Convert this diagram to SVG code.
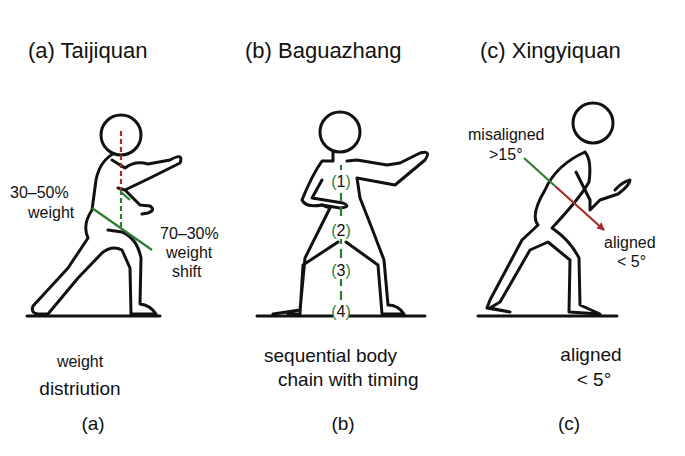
<svg xmlns="http://www.w3.org/2000/svg" width="685" height="456" viewBox="0 0 685 456">
<style>
text{font-family:"Liberation Sans",Arial,sans-serif;fill:#111}
.b{fill:none;stroke:#111;stroke-width:3;stroke-linecap:round;stroke-linejoin:round}
.h{fill:#fff;stroke:#111;stroke-width:3}
.g{stroke:#2e7d32;stroke-width:2.2;fill:none}
.r{stroke:#a52a2a;stroke-width:2.2;fill:none}
.t{font-size:22px}
.s{font-size:16px}
.m{font-size:19px}
</style>
<defs><marker id="ar" markerWidth="8" markerHeight="8" refX="7" refY="4" orient="auto" markerUnits="userSpaceOnUse"><path d="M0,0 L8,4 L0,8 z" fill="#a52a2a"/></marker></defs>
<rect width="685" height="456" fill="#fff"/>
<text class="t" x="28" y="58">(a)  Taijiquan</text>
<text class="t" x="245" y="58">(b)  Baguazhang</text>
<text class="t" x="480" y="58">(c)  Xingyiquan</text>
<g id="figA">
<line class="b" x1="27" y1="316" x2="160" y2="316"/>
<path class="b" d="M115,153 Q100,160 96,180 L92,210 Q82,225 88,238 L68,268 L33,306 Q30,314 40,314 L48,314 L78,278 L102,253 Q112,245 122,250 L130,268 L131,314 L156,314 Q150,305 140,304 L141,258 Q137,238 122,232 L108,230"/>
<path class="b" d="M112,160 L125,168 Q135,160 148,164 L170,160 Q184,152 180,163 L150,178 L125,190 L118,188 M125,190 L140,205 L150,206 Q156,210 148,213 L142,214"/>
<circle class="h" cx="121" cy="135" r="20"/>
<line class="r" x1="121" y1="131" x2="121" y2="190" stroke-dasharray="5,3"/>
<line class="g" x1="121" y1="190" x2="121" y2="230" stroke-dasharray="5,3"/>
<line class="g" x1="92" y1="208" x2="152" y2="250"/>
<line class="g" x1="121" y1="192" x2="130" y2="200"/>
<text class="s" x="10" y="198">30–50%</text>
<text class="s" x="28" y="218">weight</text>
<text class="s" x="160" y="239">70–30%</text>
<text class="s" x="166" y="258">weight</text>
<text class="s" x="172" y="277">shift</text>
</g>
<g id="figB">
<line class="b" x1="257" y1="316" x2="425" y2="316"/>
<path class="b" d="M333,152 L333,161 L322,161 Q312,175 302,200 Q306,208 322,205 L330,208 Q318,232 305,258 L300,310 L273,314 M288,314 L300,314 L303,265 L338,242 M346,242 L378,265 L382,314 L404,314 Q398,305 388,305 L384,260 Q372,228 360,198 L357,178 L395,185 L425,160 Q432,150 420,153 L400,163 L387,165 L357,160 L347,161"/>
<path class="b" d="M322,180 L312,198 L343,203 Q352,207 340,208 L322,205"/>
<circle class="h" cx="340" cy="132" r="20"/>
<line class="g" x1="341" y1="165" x2="341" y2="316" stroke-dasharray="9,5"/>
<g font-size="16">
<rect x="333" y="170" width="16" height="20" fill="#fff"/><text x="341" y="187" text-anchor="middle"><tspan fill="#2e7d32">(</tspan>1<tspan fill="#2e7d32">)</tspan></text>
<rect x="333" y="219" width="16" height="20" fill="#fff"/><text x="341" y="236" text-anchor="middle"><tspan fill="#2e7d32">(</tspan>2<tspan fill="#2e7d32">)</tspan></text>
<rect x="333" y="259" width="16" height="20" fill="#fff"/><text x="341" y="276" text-anchor="middle"><tspan fill="#2e7d32">(</tspan>3<tspan fill="#2e7d32">)</tspan></text>
<rect x="333" y="300" width="16" height="20" fill="#fff"/><text x="341" y="317" text-anchor="middle"><tspan fill="#2e7d32">(</tspan>4<tspan fill="#2e7d32">)</tspan></text>
</g>
</g>
<g id="figC">
<line class="b" x1="478" y1="316" x2="617" y2="316"/>
<path class="b" d="M585,152 Q556,165 545,190 Q530,215 538,225 L522,240 L490,300 L487,308 L510,312 L490,308 L500,302 L530,250 L548,242 L570,260 L569,312 L600,314 L580,305 L579,258 Q570,240 552,228 Q580,198 589,182 Q592,160 585,152"/>
<path class="b" d="M576,172 L590,200 L590,210 L600,200 L618,194 Q630,185 630,180 Q622,182 615,190"/>
<circle class="h" cx="593" cy="123" r="20"/>
<line class="g" x1="524" y1="158" x2="555" y2="186"/>
<line class="r" x1="555" y1="186" x2="604" y2="230" marker-end="url(#ar)"/>
<text class="s" x="468" y="140">misaligned</text>
<text class="s" x="489" y="160">&gt;15°</text>
<text class="s" x="604" y="248">aligned</text>
<text class="s" x="617" y="267">&lt; 5°</text>
</g>
<text class="s" x="80" y="367" text-anchor="middle">weight</text>
<text class="m" x="80" y="395" text-anchor="middle">distriution</text>
<text class="m" x="264" y="362">sequential body</text>
<text class="m" x="278" y="386">chain with timing</text>
<text class="m" x="591" y="361" text-anchor="middle">aligned</text>
<text class="m" x="594" y="386" text-anchor="middle">&lt; 5°</text>
<text class="m" x="93" y="430" text-anchor="middle">(a)</text>
<text class="m" x="343" y="430" text-anchor="middle">(b)</text>
<text class="m" x="569" y="430" text-anchor="middle">(c)</text>
</svg>
